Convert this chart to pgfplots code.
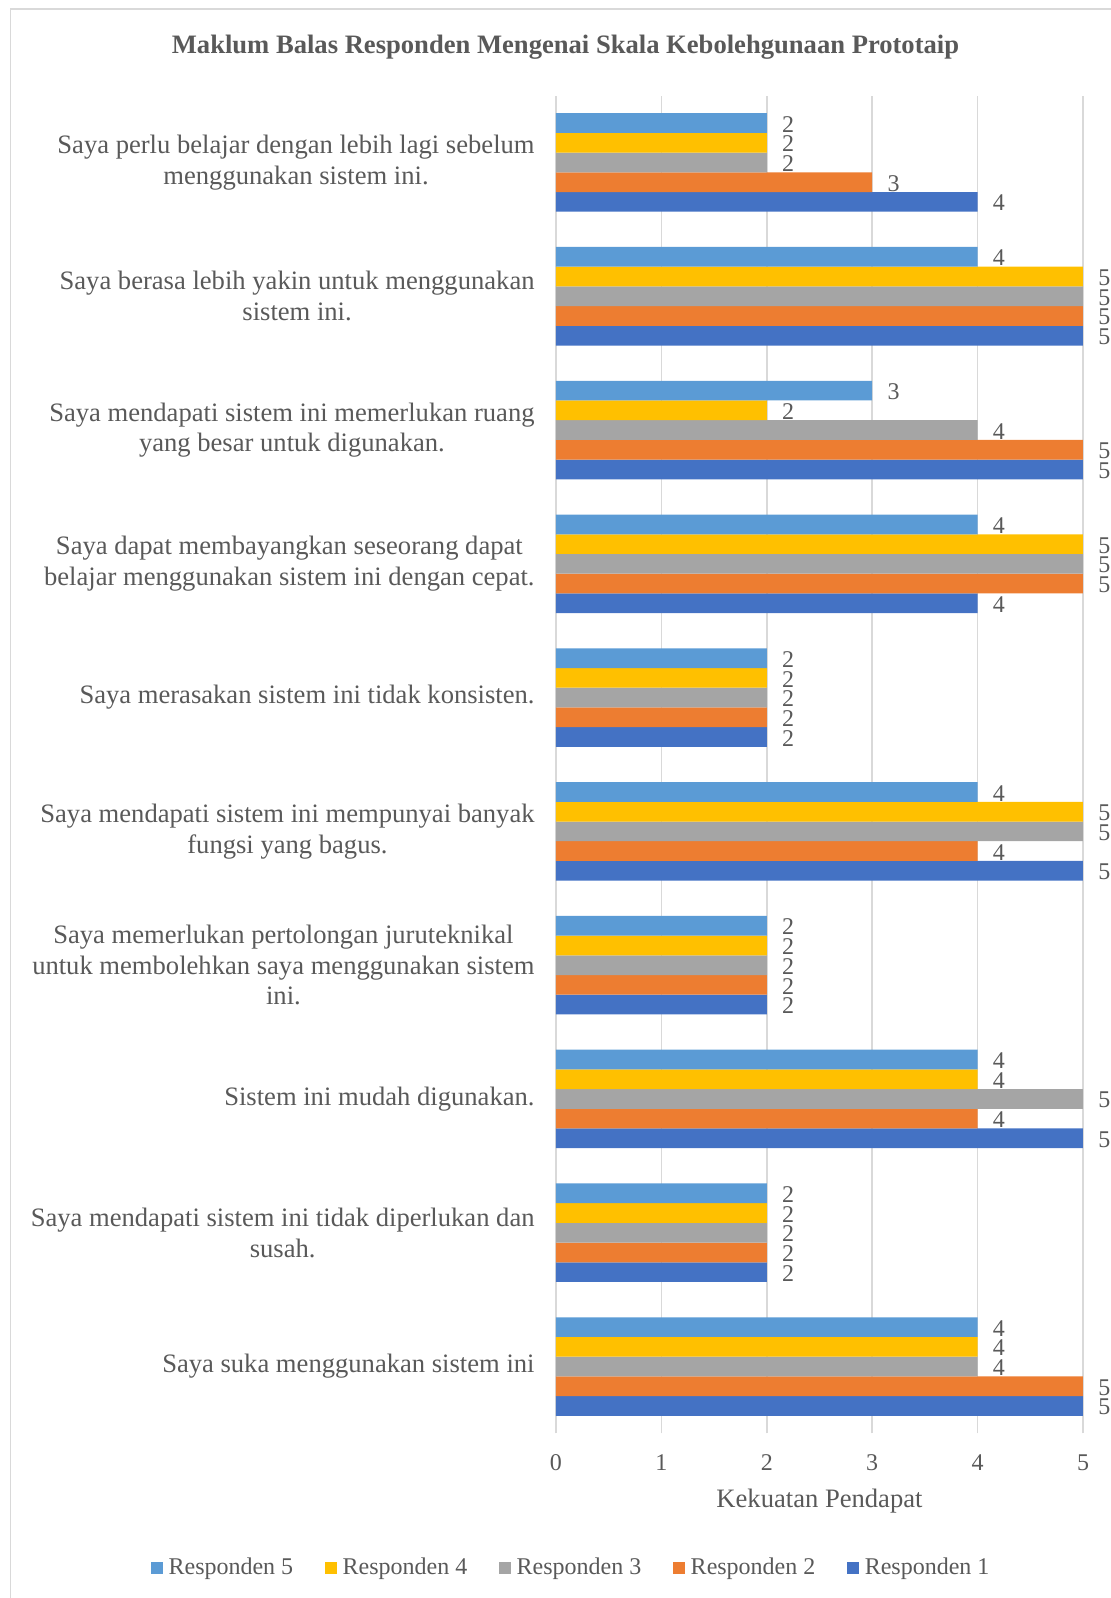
\documentclass[border=0pt]{standalone}
\usepackage{pgfplots}
\pgfplotsset{compat=1.18}
\usepackage{fontspec}
\setmainfont{Liberation Serif}
\definecolor{txt}{HTML}{595959}
\definecolor{gridc}{HTML}{D9D9D9}
\definecolor{rA}{HTML}{4472C4}
\definecolor{rB}{HTML}{ED7D31}
\definecolor{rC}{HTML}{A5A5A5}
\definecolor{rD}{HTML}{FFC000}
\definecolor{rE}{HTML}{5B9BD5}
\begin{document}
\begin{tikzpicture}
\begin{axis}[
  at={(0,0)}, anchor=south west,
  scale only axis, width=263.5pt, height=668.9pt,
  xbar, bar width=9.85pt,
  xmin=0, xmax=5, ymin=0.5, ymax=10.5,
  xtick={0,1,2,3,4,5}, ytick={1,2,3,4,5,6,7,8,9,10},
  yticklabels={
    {Saya suka menggunakan sistem ini},
    {Saya mendapati sistem ini tidak diperlukan dan\\susah.},
    {Sistem ini mudah digunakan.},
    {Saya memerlukan pertolongan juruteknikal\\untuk membolehkan saya menggunakan sistem\\ini.},
    {Saya mendapati sistem ini mempunyai banyak\\fungsi yang bagus.},
    {Saya merasakan sistem ini tidak konsisten.},
    {Saya dapat membayangkan seseorang dapat\\belajar menggunakan sistem ini dengan cepat.},
    {Saya mendapati sistem ini memerlukan ruang\\yang besar untuk digunakan.},
    {Saya berasa lebih yakin untuk menggunakan\\sistem ini.},
    {Saya perlu belajar dengan lebih lagi sebelum\\menggunakan sistem ini.}},
  xmajorgrids, major grid style={draw=gridc, line width=0.75pt},
  axis line style={draw=none}, major tick length=0pt,
  clip=false,
  /pgf/number format/assume math mode=true,
  xticklabel style={font=\fontsize{12}{14}\selectfont, text=txt, anchor=base, yshift=-18.3pt, inner sep=0pt},
  yticklabel style={font=\fontsize{13.3}{15.3}\selectfont, text=txt, align=center, anchor=east, inner sep=0pt, xshift=-10.5pt},
  xlabel={Kekuatan Pendapat},
  xlabel style={at={(axis description cs:0.5,0)}, anchor=base, yshift=-36.8pt, font=\fontsize{13.3}{15}\selectfont, text=txt, inner sep=0pt},
  nodes near coords,
  nodes near coords style={font=\fontsize{12}{14}\selectfont, text=txt, anchor=west, inner sep=0pt, xshift=7.5pt, yshift=-0.6pt},
  legend columns=5, reverse legend,
  legend image code/.code={\fill[#1] (0pt,-3.1pt) rectangle (5.8pt,2.7pt);},
  legend style={at={(axis description cs:0,0)}, anchor=west, xshift=-202.5pt, yshift=-67pt,
    draw=none, fill=none, inner sep=0pt, outer sep=0pt,
    font=\fontsize{12}{14}\selectfont, text=txt, nodes={inner sep=0pt},
    /tikz/column sep=3pt, /tikz/every even column/.append style={column sep=15.9pt}},
]
\addplot[fill=rA, draw=none, bar shift=-19.7pt] coordinates {(5,1) (2,2) (5,3) (2,4) (5,5) (2,6) (4,7) (5,8) (5,9) (4,10)};
\addlegendentry{Responden 1}
\addplot[fill=rB, draw=none, bar shift=-9.85pt] coordinates {(5,1) (2,2) (4,3) (2,4) (4,5) (2,6) (5,7) (5,8) (5,9) (3,10)};
\addlegendentry{Responden 2}
\addplot[fill=rC, draw=none, bar shift=0pt] coordinates {(4,1) (2,2) (5,3) (2,4) (5,5) (2,6) (5,7) (4,8) (5,9) (2,10)};
\addlegendentry{Responden 3}
\addplot[fill=rD, draw=none, bar shift=9.85pt] coordinates {(4,1) (2,2) (4,3) (2,4) (5,5) (2,6) (5,7) (2,8) (5,9) (2,10)};
\addlegendentry{Responden 4}
\addplot[fill=rE, draw=none, bar shift=19.7pt] coordinates {(4,1) (2,2) (4,3) (2,4) (4,5) (2,6) (4,7) (3,8) (4,9) (2,10)};
\addlegendentry{Responden 5}
\end{axis}
\node[anchor=base, inner sep=0pt, font=\bfseries\fontsize{13.3}{15}\selectfont, text=txt] at (4.75pt,690pt) {Maklum Balas Responden Mengenai Skala Kebolehgunaan Prototaip};
\draw[gridc, line width=0.9pt] (-272.7pt,-120pt) -- (-272.7pt,712.05pt) -- (320pt,712.05pt);
\pgfresetboundingbox
\path (-278pt,-82.3pt) rectangle (277pt,716.7pt);
\end{tikzpicture}
\end{document}
